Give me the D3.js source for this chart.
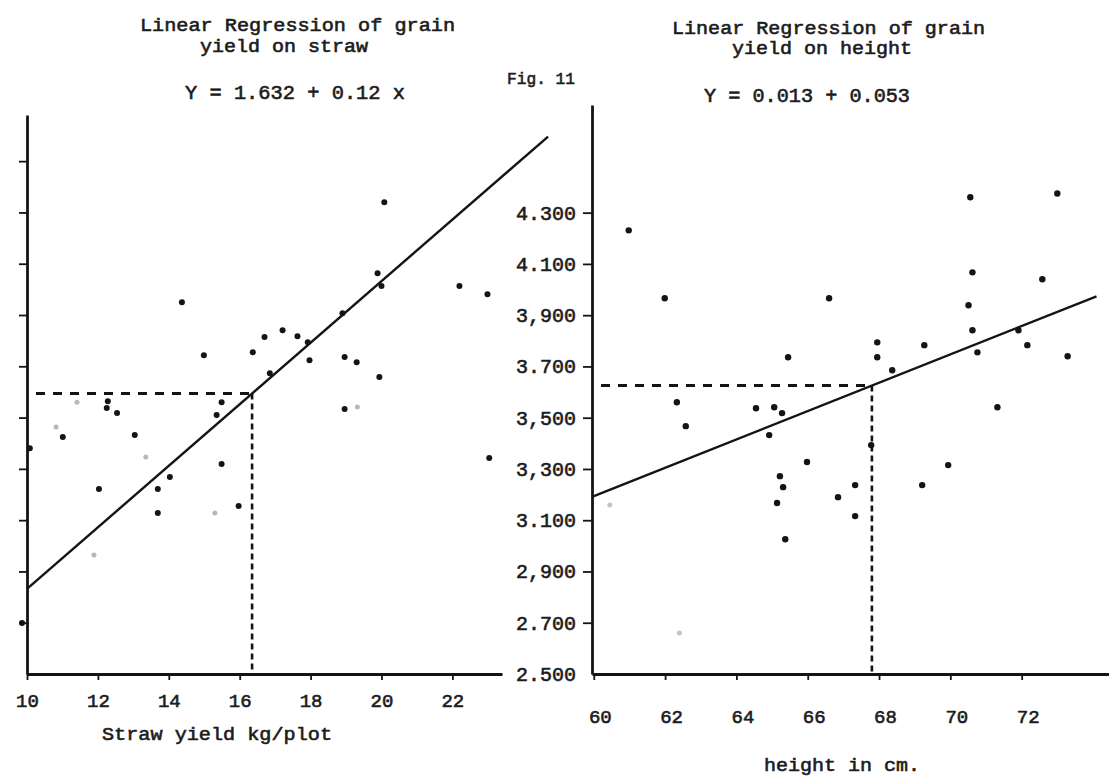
<!DOCTYPE html>
<html>
<head>
<meta charset="utf-8">
<script src="https://cdn.jsdelivr.net/npm/d3@7"></script>
<style>
  html, body { margin: 0; padding: 0; background: #fff; }
  svg { display: block; }
  text { font-family: "Liberation Mono", "DejaVu Sans Mono", monospace; fill: #1c1c1c; stroke: #1c1c1c; stroke-width: 0.6px; }
</style>
</head>
<body>
<svg id="chart" width="1109" height="777"></svg>
<script>
// ---------- data ----------
// Left panel: grain yield (kg/plot) vs straw yield (kg/plot)
const strawX = [14.37, 14.99, 16.37, 16.70, 17.21, 17.63, 17.92, 16.85, 15.49, 15.35,
                12.28, 12.25, 12.54, 13.04, 11.01, 20.08, 19.89, 20.00, 18.90, 22.20,
                22.99, 17.97, 18.96, 19.30, 19.94, 18.96, 12.03, 13.69, 14.03, 15.49,
                13.69, 15.97, 9.86, 23.04, 10.08];
const strawY = [3.950, 3.743, 3.755, 3.814, 3.841, 3.817, 3.794, 3.673, 3.560, 3.510,
                3.564, 3.537, 3.518, 3.432, 3.424, 4.340, 4.063, 4.013, 3.907, 4.013,
                3.981, 3.724, 3.736, 3.716, 3.658, 3.533, 3.221, 3.221, 3.268, 3.319,
                3.128, 3.155, 2.699, 3.342, 3.380];
const strawFaintX = [10.82, 11.41, 13.35, 15.30, 11.89, 19.32];
const strawFaintY = [3.463, 3.560, 3.346, 3.128, 2.964, 3.541];

// Right panel: grain yield vs plant height (cm)
const heightX = [60.98, 61.99, 66.60, 65.45, 62.33, 62.58, 64.55, 65.06, 65.28, 64.92,
                 70.56, 73.00, 70.62, 72.58, 70.51, 70.62, 71.91, 70.76, 72.16, 73.29,
                 69.27, 67.95, 67.95, 68.37, 71.32, 65.98, 65.22, 65.31, 65.14, 65.37,
                 66.85, 67.33, 67.33, 69.94, 69.21, 67.78];
const heightY = [4.231, 3.966, 3.966, 3.736, 3.560, 3.467, 3.537, 3.541, 3.518, 3.432,
                 4.360, 4.375, 4.067, 4.040, 3.939, 3.841, 3.841, 3.755, 3.783, 3.740,
                 3.783, 3.794, 3.736, 3.685, 3.541, 3.327, 3.272, 3.229, 3.167, 3.026,
                 3.190, 3.237, 3.116, 3.315, 3.237, 3.393];
const heightFaintX = [60.45, 62.40];
const heightFaintY = [3.159, 2.660];

// fitted regression lines (intercept, slope) and the x value of the dashed read-off
const strawFit = { a: 1.632, b: 0.12, x0: 10, x1: 24.7, mean: 16.35 };
const heightFit = { a: -0.124, b: 0.0553, x0: 59.95, x1: 74.1, mean: 67.8 };

// tick values / labels
const strawTicks = [10, 12, 14, 16, 18, 20, 22];
const heightTicks = [60, 62, 64, 66, 68, 70, 72];
const leftYTicks = [2.7, 2.9, 3.1, 3.3, 3.5, 3.7, 3.9, 4.1, 4.3, 4.5];
const rightYTicks = [2.5, 2.7, 2.9, 3.1, 3.3, 3.5, 3.7, 3.9, 4.1, 4.3];
const rightYLabels = ["2.500", "2.700", "2,900", "3.100", "3,300", "3,500", "3.700", "3,900", "4.100", "4.300"];

// texts
const leftTitle = ["Linear Regression of grain", "yield on straw"];
const leftEquation = "Y = 1.632 + 0.12 x";
const rightTitle = ["Linear Regression of grain", "yield on height"];
const rightEquation = "Y = 0.013 + 0.053";
const figLabel = "Fig. 11";
const leftXLabel = "Straw yield kg/plot";
const rightXLabel = "height in cm.";

// ---------- drawing ----------
const svg = d3.select("#chart");
const ink = "#141414";

const xL = d3.scaleLinear().domain([10, 23.4]).range([27, 502]);
const yL = d3.scaleLinear().domain([2.5, 4.68]).range([674, 115]);
const xR = d3.scaleLinear().domain([59.95, 74.45]).range([592, 1109]);
const yR = d3.scaleLinear().domain([2.5, 4.72]).range([674, 105]);

function styleAxis(g) {
  g.select(".domain").attr("stroke", ink).attr("stroke-width", 2.8);
  g.selectAll(".tick line").attr("stroke", ink).attr("stroke-width", 1.8);
  g.selectAll(".tick text").attr("font-family", null).attr("font-size", null);
}

// Left panel axes
svg.append("g").attr("transform", "translate(0,674)")
  .call(d3.axisBottom(xL).tickValues(strawTicks).tickSize(6).tickSizeOuter(0).tickPadding(14)
        .tickFormat(d3.format("d")))
  .call(styleAxis)
  .call(g => g.selectAll(".tick text").style("font-size", "19px"));
svg.append("g").attr("transform", "translate(27,0)")
  .call(d3.axisLeft(yL).tickValues(leftYTicks).tickSize(8).tickSizeOuter(0).tickFormat(""))
  .call(styleAxis);

// Right panel axes
svg.append("g").attr("transform", "translate(0,674)")
  .call(d3.axisBottom(xR).tickValues(heightTicks).tickSize(6).tickSizeOuter(0).tickPadding(30)
        .tickFormat(d3.format("d")))
  .call(styleAxis)
  .call(g => g.selectAll(".tick text").style("font-size", "19px").attr("dx", "6"));
svg.append("g").attr("transform", "translate(592,0)")
  .call(d3.axisLeft(yR).tickValues(rightYTicks).tickSize(9).tickSizeOuter(0).tickPadding(7)
        .tickFormat((d, i) => rightYLabels[i]))
  .call(styleAxis)
  .call(g => g.selectAll(".tick text").style("font-size", "20px"))
  .call(g => g.selectAll(".tick").filter(d => d === 2.5).select("line").remove());

// Regression lines
function fitLine(fit, x, y) {
  const pts = [fit.x0, fit.x1].map(v => [x(v), y(fit.a + fit.b * v)]);
  svg.append("path").attr("d", d3.line()(pts)).attr("fill", "none")
    .attr("stroke", ink).attr("stroke-width", 2.4);
  const ym = fit.a + fit.b * fit.mean;
  svg.append("path").attr("d", d3.line()([[x(x.domain()[0]) + 9, y(ym)], [x(fit.mean), y(ym)]]))
    .attr("fill", "none").attr("stroke", ink).attr("stroke-width", 3).attr("stroke-dasharray", "9,8");
  svg.append("path").attr("d", d3.line()([[x(fit.mean), y(ym)], [x(fit.mean), y(2.5)]]))
    .attr("fill", "none").attr("stroke", ink).attr("stroke-width", 2.6).attr("stroke-dasharray", "6,4");
}
fitLine(strawFit, xL, yL);
fitLine(heightFit, xR, yR);

// Points
function points(xs, ys, x, y, color, r) {
  svg.append("g").selectAll("circle").data(xs).join("circle")
    .attr("cx", d => x(d)).attr("cy", (d, i) => y(ys[i])).attr("r", r).attr("fill", color);
}
points(strawX, strawY, xL, yL, ink, 3);
points(strawFaintX, strawFaintY, xL, yL, "#b8b8b8", 2.5);
points(heightX, heightY, xR, yR, ink, 3.2);
points(heightFaintX, heightFaintY, xR, yR, "#c4c4c4", 2.5);

// Texts
function txt(s, x, y, size, len) {
  const t = svg.append("text").attr("x", x).attr("y", y).style("font-size", size + "px").text(s);
  if (len) t.attr("textLength", len).attr("lengthAdjust", "spacingAndGlyphs");
  return t;
}
txt(leftTitle[0], 140, 31, 19, 315);
txt(leftTitle[1], 200, 52, 19, 168);
txt(leftEquation, 185, 99, 20, 220);
txt(figLabel, 507, 84, 17, 68);
txt(rightTitle[0], 672, 34, 19, 313);
txt(rightTitle[1], 732, 54, 19, 180);
txt(rightEquation, 704, 102, 20, 206);
txt(leftXLabel, 102, 740, 19, 230);
txt(rightXLabel, 764, 771, 19, 156);
</script>
</body>
</html>
